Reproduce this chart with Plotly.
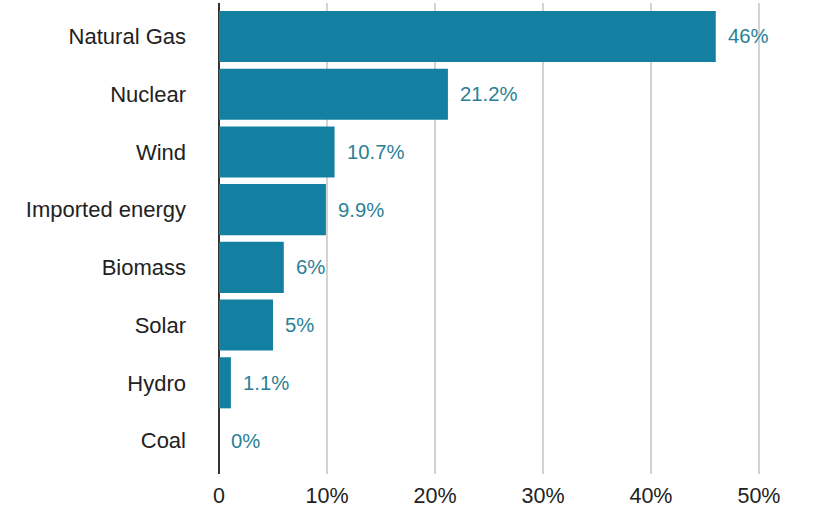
import plotly.graph_objects as go

categories = ["Natural Gas", "Nuclear", "Wind", "Imported energy", "Biomass", "Solar", "Hydro", "Coal"]
shares = [46, 21.2, 10.7, 9.9, 6, 5, 1.1, 0]
tick_vals = [0, 10, 20, 30, 40, 50]
tick_text = ["0", "10%", "20%", "30%", "40%", "50%"]

BAR = "#1380A1"
LABEL = "#2A7F96"
FONT = "Liberation Sans, Arial, Helvetica, sans-serif"

fig = go.Figure(go.Bar(
    x=shares, y=categories, orientation="h",
    marker=dict(color=BAR, line=dict(width=0)),
    hoverinfo="skip",
))

for c, v in zip(categories, shares):
    fig.add_annotation(x=v, y=c, text=f"{v:g}%", showarrow=False,
                       xanchor="left", xshift=10,
                       font=dict(family=FONT, size=20.3, color=LABEL))

fig.update_layout(
    width=827, height=512,
    margin=dict(l=219, r=0, t=3, b=38),
    paper_bgcolor="white", plot_bgcolor="white",
    bargap=0.115,
    showlegend=False,
    font=dict(family=FONT, size=21, color="#222222"),
    xaxis=dict(range=[0, 56.3], tickvals=tick_vals, ticktext=tick_text,
               showgrid=True, gridcolor="#D3D3D3", gridwidth=1.5,
               zeroline=True, zerolinecolor="#333333", zerolinewidth=2,
               showline=False, ticks="", ticklabelstandoff=6,
               tickfont=dict(family=FONT, size=21.5, color="#222222"), fixedrange=True),
    yaxis=dict(range=[7.58, -0.58], showgrid=False, zeroline=False, showline=False,
               ticks="", ticklabelstandoff=32,
               tickfont=dict(family=FONT, size=22, color="#222222"), fixedrange=True),
)

fig.write_html("out.html", config={"displayModeBar": False},
               post_script="document.body.style.margin='0';document.body.style.padding='0';")
